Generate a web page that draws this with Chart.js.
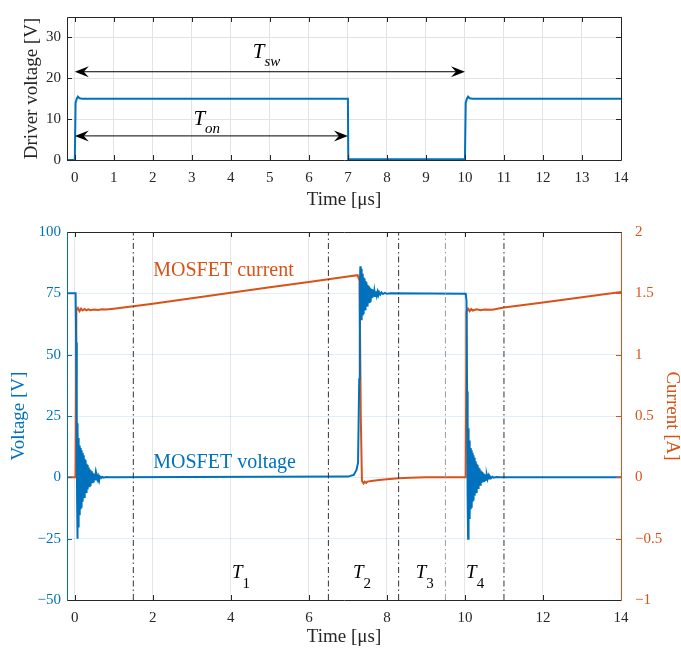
<!DOCTYPE html>
<html>
<head>
<meta charset="utf-8">
<script src="https://cdn.jsdelivr.net/npm/chart.js@4.4.0/dist/chart.umd.min.js"></script>
<style>
  body { margin: 0; background: #fff; }
  #wrap { position: relative; width: 681px; height: 650px; }
  canvas { position: absolute; left: 0; }
  #driver { top: 0; }
  #mosfet { top: 215px; }
</style>
</head>
<body>
<div id="wrap">
  <canvas id="driver" width="681" height="215"></canvas>
  <canvas id="mosfet" width="681" height="435"></canvas>
</div>
<script>
var driverTime = [-0.2, 0.0, 0.02, 0.05, 0.08, 0.12, 0.2, 7.0, 7.01, 10.0, 10.02, 10.05, 10.08, 10.12, 10.2, 14];
var driverVolt = [0, 0, 14, 15, 15.5, 15.1, 15, 15, 0.2, 0.2, 14, 15, 15.5, 15.1, 15, 15];

// MOSFET voltage, [t, V] pieces
var voltTurnOn = [[-0.2, 75], [0.02, 75], [0.035, 55], [0.05, 27], [0.058, -8], [0.066, -25], [0.074, 22],
  [0.082, -20], [0.09, 16], [0.098, -18], [0.106, 13], [0.114, -15], [0.122, 13], [0.13, -14], [0.138, 12],
  [0.146, -13], [0.154, 12], [0.162, -12], [0.17, 11], [0.178, -11], [0.186, 10], [0.194, -10], [0.202, 9.5],
  [0.21, -9.5], [0.218, 9], [0.226, -8.5], [0.234, 8], [0.242, -8], [0.25, 7.5], [0.258, -7], [0.266, 7],
  [0.274, -6.5], [0.282, 6], [0.29, -6], [0.298, 5.5], [0.306, -5.5], [0.314, 5], [0.322, -5], [0.33, 4.5],
  [0.338, -4.5], [0.346, 4], [0.354, -4], [0.362, 3.8], [0.37, -3.6], [0.38, 3.3], [0.39, -3.1], [0.4, 2.9],
  [0.41, -2.7], [0.42, 2.5], [0.43, -2.3], [0.44, 2.1], [0.45, -2], [0.46, 1.8], [0.47, -1.7], [0.48, 1.5],
  [0.49, -1.4], [0.5, 1.3], [0.515, -1.1], [0.53, 1], [0.545, -0.9], [0.56, 0.8], [0.58, -0.7], [0.6, 0.6],
  [0.62, -0.5], [0.64, 0.4], [0.67, -0.3], [0.7, 0.25], [0.74, -0.15], [0.8, 0.1], [0.9, 0]];
var voltTurnOff = [[7.0, 0.3], [7.15, 1], [7.22, 3], [7.26, 6], [7.29, 40], [7.305, 78], [7.32, 86], [7.328, 66],
  [7.336, 85], [7.344, 64], [7.352, 84], [7.36, 65], [7.368, 83], [7.376, 66], [7.384, 82], [7.392, 67],
  [7.4, 81.5], [7.408, 67.5], [7.416, 81], [7.424, 68], [7.432, 80.5], [7.44, 68.5], [7.448, 80], [7.456, 69],
  [7.464, 79.5], [7.472, 69.5], [7.48, 79], [7.49, 70], [7.5, 78.5], [7.51, 70.5], [7.52, 78], [7.53, 71],
  [7.54, 77.7], [7.55, 71.5], [7.56, 77.4], [7.57, 72], [7.58, 77], [7.59, 72.5], [7.6, 76.8], [7.61, 73],
  [7.62, 76.5], [7.635, 73.3], [7.65, 76.2], [7.665, 73.6], [7.68, 76], [7.7, 73.9], [7.72, 75.8], [7.74, 74.1],
  [7.76, 75.6], [7.78, 74.3], [7.8, 75.5], [7.83, 74.5], [7.86, 75.4], [7.9, 74.7], [7.95, 75.2], [8.0, 74.8],
  [8.1, 75]];
var voltTurnOn2 = [[10.02, 74.8], [10.04, 72], [10.055, 35], [10.065, 26], [10.073, -8], [10.081, -25],
  [10.089, 20], [10.097, -20], [10.105, 15], [10.113, -17], [10.121, 13], [10.129, -15], [10.137, 12],
  [10.145, -13], [10.153, 12], [10.161, -12], [10.169, 11], [10.177, -11], [10.185, 10], [10.193, -10],
  [10.201, 9.5], [10.209, -9], [10.217, 9], [10.225, -8.5], [10.233, 8], [10.241, -7.5], [10.249, 7.5],
  [10.257, -7], [10.265, 6.5], [10.273, -6.5], [10.281, 6], [10.289, -6], [10.297, 5.5], [10.305, -5],
  [10.313, 5], [10.321, -4.8], [10.329, 4.5], [10.337, -4.3], [10.345, 4], [10.353, -3.8], [10.362, 3.6],
  [10.371, -3.4], [10.38, 3.2], [10.39, -3], [10.4, 2.8], [10.41, -2.6], [10.42, 2.4], [10.43, -2.2],
  [10.44, 2], [10.45, -1.9], [10.46, 1.7], [10.47, -1.6], [10.48, 1.5], [10.49, -1.4], [10.5, 1.3],
  [10.515, -1.1], [10.53, 1], [10.545, -0.9], [10.56, 0.8], [10.58, -0.7], [10.6, 0.6], [10.62, -0.5],
  [10.64, 0.4], [10.67, -0.3], [10.7, 0.25], [10.74, -0.15], [10.8, 0.1], [10.9, 0], [14, 0]];

var mosITime = [-0.2, 0.02, 0.04, 0.08, 0.12, 0.16, 0.2, 0.25, 0.3, 0.35, 0.4, 0.5, 0.6, 0.7, 0.8, 1.0,
  1.5, 2, 3, 4, 5, 6, 7, 7.25, 7.3, 7.33, 7.36, 7.4, 7.43, 7.47, 7.5, 7.6, 7.8, 8.0, 8.3, 8.6, 9.0,
  10.02, 10.04, 10.08, 10.12, 10.16, 10.2, 10.3, 10.4, 10.5, 10.7, 11, 12, 13, 14];
var mosCurr = [0, 0, 1.36, 1.38, 1.355, 1.375, 1.36, 1.372, 1.362, 1.37, 1.363, 1.368, 1.365, 1.37, 1.368, 1.375,
  1.395, 1.416, 1.46, 1.505, 1.55, 1.593, 1.637, 1.648, 1.6, 0.5, -0.03, -0.05, -0.035, -0.045, -0.035, -0.03, -0.022, -0.015, -0.008, -0.003, 0,
  0, 1.35, 1.375, 1.355, 1.372, 1.36, 1.37, 1.363, 1.368, 1.366, 1.384, 1.426, 1.468, 1.51];

var phaseEdges = [1.5, 6.5, 8.3, 9.5, 11];

var driverXTicks = [0, 1, 2, 3, 4, 5, 6, 7, 8, 9, 10, 11, 12, 13, 14];
var driverYTicks = [0, 10, 20, 30];
var mosXTicks = [0, 2, 4, 6, 8, 10, 12, 14];
var voltTicks = [-50, -25, 0, 25, 50, 75, 100];
var currTicks = [-1, -0.5, 0, 0.5, 1, 1.5, 2];

var BLUE = '#0072BD', ORANGE = '#D95319', INK = '#262626';
var serif = '"Liberation Serif", "Times New Roman", serif';

function zip(xs, ys) {
  return xs.map(function (x, i) { return {x: x, y: ys[i]}; });
}

function pairs(list) {
  return list.map(function (p) { return {x: p[0], y: p[1]}; });
}

function fixTicks(list) {
  return function (scale) { scale.ticks = list.map(function (v) { return {value: v}; }); };
}

function minus(v) { return String(v).replace('-', '\u2212'); }

function arrowHead(ctx, x, y, dir) {
  ctx.beginPath();
  ctx.moveTo(x, y);
  ctx.lineTo(x + dir * 14, y - 5.5);
  ctx.lineTo(x + dir * 9, y);
  ctx.lineTo(x + dir * 14, y + 5.5);
  ctx.closePath();
  ctx.fill();
}

// inward ticks, box, arrows and text labels
var decor = {
  id: 'decor',
  afterDatasetsDraw: function (chart, args, opts) {
    var ctx = chart.ctx, a = chart.chartArea, xs = chart.scales.x;
    ctx.save();
    ctx.lineWidth = 1;

    function seg(x0, y0, x1, y1, col) {
      ctx.strokeStyle = col;
      ctx.beginPath(); ctx.moveTo(x0, y0); ctx.lineTo(x1, y1); ctx.stroke();
    }

    xs.ticks.forEach(function (t) {
      var px = Math.round(xs.getPixelForValue(t.value)) + 0.5;
      seg(px, a.bottom, px, a.bottom - 5, INK);
      seg(px, a.top, px, a.top + 5, INK);
    });
    var ly = chart.scales.y;
    ly.ticks.forEach(function (t) {
      var py = Math.round(ly.getPixelForValue(t.value)) + 0.5;
      seg(a.left, py, a.left + 5, py, opts.leftColor);
      if (!chart.scales.y1) seg(a.right, py, a.right - 5, py, opts.rightColor);
    });
    if (chart.scales.y1) {
      var ry = chart.scales.y1;
      ry.ticks.forEach(function (t) {
        var py = Math.round(ry.getPixelForValue(t.value)) + 0.5;
        seg(a.right, py, a.right - 5, py, opts.rightColor);
      });
    }

    var L = Math.round(a.left) + 0.5, R = Math.round(a.right) + 0.5;
    var T = Math.round(a.top) + 0.5, B = Math.round(a.bottom) + 0.5;
    seg(L, T, R, T, INK);
    seg(L, B, R, B, INK);
    seg(L, T, L, B, opts.leftColor);
    seg(R, T, R, B, opts.rightColor);

    (opts.arrows || []).forEach(function (ar) {
      var x0 = xs.getPixelForValue(ar.from), x1 = xs.getPixelForValue(ar.to);
      var py = ly.getPixelForValue(ar.y);
      ctx.strokeStyle = '#000';
      ctx.fillStyle = '#000';
      ctx.beginPath(); ctx.moveTo(x0 + 8, py); ctx.lineTo(x1 - 8, py); ctx.stroke();
      arrowHead(ctx, x0, py, 1);
      arrowHead(ctx, x1, py, -1);
    });

    (opts.labels || []).forEach(function (lb) {
      var px = xs.getPixelForValue(lb.x), py = ly.getPixelForValue(lb.y);
      ctx.fillStyle = lb.color || '#000';
      ctx.textAlign = 'left';
      ctx.textBaseline = 'alphabetic';
      ctx.font = (lb.italic ? 'italic ' : '') + lb.size + 'px ' + serif;
      ctx.fillText(lb.text, px, py);
      if (lb.sub) {
        var w = ctx.measureText(lb.text).width;
        ctx.font = (lb.subItalic ? 'italic ' : '') + lb.subSize + 'px ' + serif;
        ctx.fillText(lb.sub, px + w, py + lb.subDrop);
      }
    });
    ctx.restore();
  }
};

var tickFont = {family: serif, size: 15};
var titleFont = {family: serif, size: 19};

new Chart(document.getElementById('driver'), {
  type: 'line',
  data: {
    datasets: [{
      data: zip(driverTime, driverVolt),
      borderColor: BLUE,
      borderWidth: 2,
      pointRadius: 0,
      tension: 0
    }]
  },
  plugins: [decor],
  options: {
    responsive: false,
    animation: false,
    layout: {padding: {top: 17, right: 60, left: 0, bottom: 0}},
    plugins: {
      legend: {display: false},
      tooltip: {enabled: false},
      decor: {
        leftColor: INK, rightColor: INK,
        arrows: [{from: 0, to: 10, y: 21.6}, {from: 0, to: 7, y: 5.9}],
        labels: [
          {text: 'T', sub: 'sw', x: 4.56, y: 24.9, size: 21, subSize: 15, subDrop: 8, italic: true, subItalic: true},
          {text: 'T', sub: 'on', x: 3.04, y: 8.5, size: 21, subSize: 15, subDrop: 8, italic: true, subItalic: true}
        ]
      }
    },
    scales: {
      x: {
        type: 'linear', min: -0.2, max: 14,
        afterBuildTicks: fixTicks(driverXTicks),
        afterFit: function (s) { s.height = 55; },
        grid: {color: '#e3e3e3', drawTicks: false},
        border: {display: false},
        ticks: {font: tickFont, color: INK, padding: 9, maxRotation: 0},
        title: {display: true, text: 'Time [\u03bcs]', font: titleFont, color: INK, padding: {top: 0, bottom: 4}}
      },
      y: {
        min: 0, max: 35,
        afterBuildTicks: fixTicks(driverYTicks),
        afterFit: function (s) { s.width = 67; },
        grid: {color: '#e3e3e3', drawTicks: false},
        border: {display: false},
        ticks: {font: tickFont, color: INK, padding: 6},
        title: {display: true, text: 'Driver voltage [V]', font: titleFont, color: INK, padding: {top: 21, bottom: 0}}
      }
    }
  }
});

var phaseSets = phaseEdges.map(function (e, i) {
  return {
    data: [{x: e, y: -50}, {x: e, y: 100}],
    yAxisID: 'y',
    borderColor: i === 3 ? '#9a9a9a' : '#333',
    borderWidth: 1,
    borderDash: [6, 3, 1.5, 3],
    pointRadius: 0
  };
});

new Chart(document.getElementById('mosfet'), {
  type: 'line',
  data: {
    datasets: phaseSets.concat([
      {
        data: pairs(voltTurnOn.concat(voltTurnOff, voltTurnOn2)),
        yAxisID: 'y',
        borderColor: BLUE,
        borderWidth: 2,
        pointRadius: 0,
        tension: 0
      },
      {
        data: zip(mosITime, mosCurr),
        yAxisID: 'y1',
        borderColor: ORANGE,
        borderWidth: 2,
        pointRadius: 0,
        tension: 0
      }
    ])
  },
  plugins: [decor],
  options: {
    responsive: false,
    animation: false,
    layout: {padding: {top: 17, right: 0, left: 0, bottom: 0}},
    plugins: {
      legend: {display: false},
      tooltip: {enabled: false},
      decor: {
        leftColor: BLUE, rightColor: ORANGE,
        labels: [
          {text: 'MOSFET current', x: 2.01, y: 82, size: 20, color: ORANGE},
          {text: 'MOSFET voltage', x: 2.01, y: 3.75, size: 20, color: BLUE},
          {text: 'T', sub: '1', x: 4.03, y: -41.1, size: 19, subSize: 15, subDrop: 10, italic: true},
          {text: 'T', sub: '2', x: 7.13, y: -41.1, size: 19, subSize: 15, subDrop: 10, italic: true},
          {text: 'T', sub: '3', x: 8.74, y: -41.1, size: 19, subSize: 15, subDrop: 10, italic: true},
          {text: 'T', sub: '4', x: 10.03, y: -41.1, size: 19, subSize: 15, subDrop: 10, italic: true}
        ]
      }
    },
    scales: {
      x: {
        type: 'linear', min: -0.2, max: 14,
        afterBuildTicks: fixTicks(mosXTicks),
        afterFit: function (s) { s.height = 50; },
        grid: {color: '#e6e6e6', drawTicks: false},
        border: {display: false},
        ticks: {font: tickFont, color: INK, padding: 9, maxRotation: 0},
        title: {display: true, text: 'Time [\u03bcs]', font: titleFont, color: INK, padding: {top: 0, bottom: 2}}
      },
      y: {
        position: 'left', min: -50, max: 100,
        afterBuildTicks: fixTicks(voltTicks),
        afterFit: function (s) { s.width = 67; },
        grid: {color: 'rgba(0,114,189,0.12)', drawTicks: false},
        border: {display: false},
        ticks: {font: tickFont, color: BLUE, padding: 6, callback: minus},
        title: {display: true, text: 'Voltage [V]', font: titleFont, color: BLUE, padding: {top: 8, bottom: 0}}
      },
      y1: {
        position: 'right', min: -1, max: 2,
        afterBuildTicks: fixTicks(currTicks),
        afterFit: function (s) { s.width = 60; },
        grid: {display: false},
        border: {display: false},
        ticks: {font: tickFont, color: ORANGE, padding: 6, callback: minus},
        title: {display: true, text: 'Current [A]', font: {family: serif, size: 19, lineHeight: 1}, color: ORANGE, padding: {top: 0, bottom: 0}}
      }
    }
  }
});
</script>
</body>
</html>
